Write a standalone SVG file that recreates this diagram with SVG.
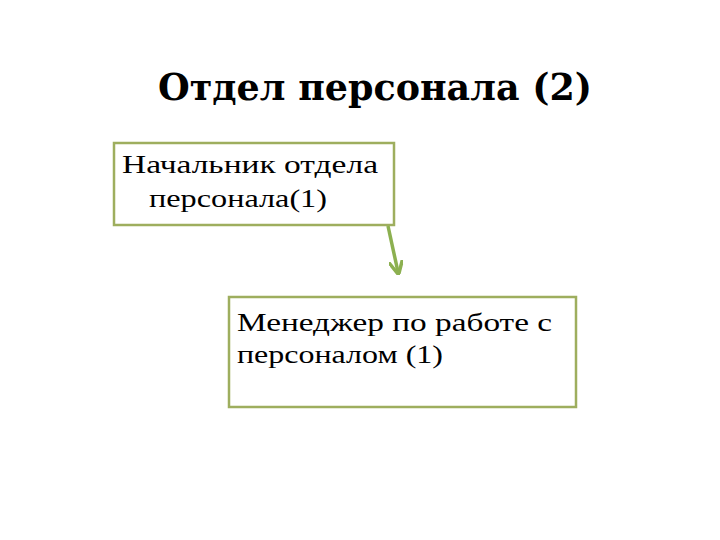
<svg xmlns="http://www.w3.org/2000/svg" width="720" height="540" viewBox="0 0 720 540">
<defs>
<style>
.box{fill:#ffffff;stroke:#9eae5e;stroke-width:2.5}
.t{font-family:"Liberation Serif","Times New Roman",serif;font-size:25px;fill:#000}
.title{font-family:"DejaVu Serif","Liberation Serif",serif;font-weight:bold;font-size:37px;fill:#000}
</style>
<marker id="ah" viewBox="0 0 10 10" refX="8" refY="5" markerWidth="4" markerHeight="4" orient="auto">
<path d="M0,0 L10,5 L0,10" fill="none" stroke="#8cb050" stroke-width="2.5"/>
</marker>
</defs>
<rect width="720" height="540" fill="#ffffff"/>
<text class="title" x="375" y="100" text-anchor="middle" textLength="434" lengthAdjust="spacingAndGlyphs">Отдел персонала (2)</text>
<g id="n1">
<rect class="box" x="114" y="143" width="280" height="82"/>
<text class="t" x="122" y="173" textLength="256" lengthAdjust="spacingAndGlyphs">Начальник отдела</text>
<text class="t" x="149" y="207" textLength="178" lengthAdjust="spacingAndGlyphs">персонала(1)</text>
</g>
<g id="n2">
<rect class="box" x="229" y="297" width="347" height="110"/>
<text class="t" x="237" y="331" textLength="315" lengthAdjust="spacingAndGlyphs">Менеджер по работе с</text>
<text class="t" x="237" y="363" textLength="206" lengthAdjust="spacingAndGlyphs">персоналом (1)</text>
</g>
<g id="connectors">
<line x1="388" y1="226" x2="398" y2="272" stroke="#8cb050" stroke-width="3.5" marker-end="url(#ah)"/>
</g>
</svg>
